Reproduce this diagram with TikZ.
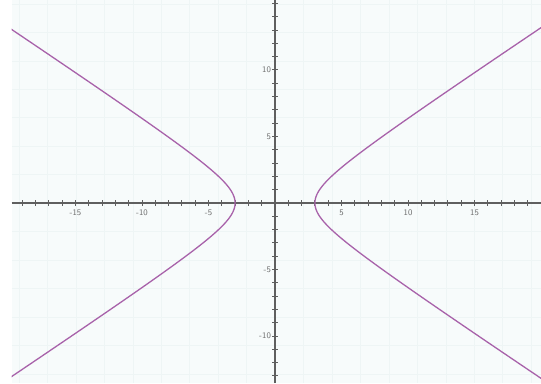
\documentclass[tikz,border=0pt]{standalone}
\definecolor{bgc}{RGB}{247,251,251}
\definecolor{gridc}{RGB}{238,245,245}
\definecolor{axisgray}{RGB}{95,95,95}
\definecolor{labelgray}{RGB}{110,110,110}
\definecolor{curvepurple}{RGB}{168,98,170}
\begin{document}
\begin{tikzpicture}[x=13.3pt,y=13.3pt,
  axisline/.style={draw=axisgray,line width=1.3pt},
  tickmark/.style={draw=axisgray,line width=1pt},
  lbl/.style={font=\fontsize{8.5}{9}\selectfont\sffamily,text=labelgray,inner sep=1pt},
  curve/.style={draw=curvepurple,line width=1.3pt}]
\useasboundingbox (-20.677,-13.534) rectangle (20.0,15.263);
\fill[bgc] (-19.8,-13.534) rectangle (20.0,15.263);
\draw[gridc,line width=0.4pt] (-19.8,-13.534) grid (20.0,15.263);
% axes
\coordinate (xl) at (-19.8,0);
\coordinate (xr) at (20.0,0);
\coordinate (yb) at (0,-13.534);
\coordinate (yt) at (0,15.263);
\draw[axisline] (xl) -- (xr);
\draw[axisline] (yb) -- (yt);
\foreach \i in {-19,...,20} \draw[tickmark] (\i,-0.22) -- (\i,0.22);
\foreach \j in {-13,...,15} \draw[tickmark] (-0.22,\j) -- (0.22,\j);
% labels
\foreach \v in {-15,-10,-5,5,10,15}
  \node[lbl,anchor=north] (xlab\v) at (\v,-0.4) {\v};
\foreach \v in {-10,-5,5,10}
  \node[lbl,anchor=east] (ylab\v) at (-0.22,\v) {\v};
% hyperbola x^2/9 - y^2/4 = 1
\begin{scope}
\clip (-19.8,-13.534) rectangle (20.0,15.263);
\draw[curve] plot[domain=-2.9:2.9,samples=200,variable=\t] ({3*cosh(\t)},{2*sinh(\t)});
\draw[curve] plot[domain=-2.9:2.9,samples=200,variable=\t] ({-3*cosh(\t)},{2*sinh(\t)});
\end{scope}
\end{tikzpicture}
\end{document}
